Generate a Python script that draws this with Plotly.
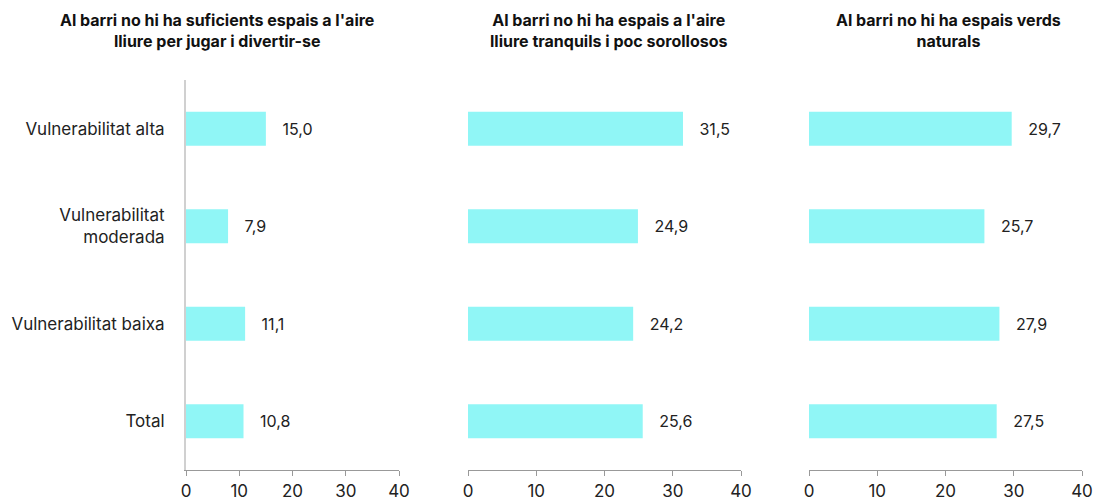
import plotly.graph_objects as go

# Data
categories = ["Vulnerabilitat alta", "Vulnerabilitat<br>moderada", "Vulnerabilitat baixa", "Total"]
titles = [
    "Al barri no hi ha suficients espais a l'aire<br>lliure per jugar i divertir-se",
    "Al barri no hi ha espais a l'aire<br>lliure tranquils i poc sorollosos",
    "Al barri no hi ha espais verds<br>naturals",
]
values_jugar = [15.0, 7.9, 11.1, 10.8]
values_tranquils = [31.5, 24.9, 24.2, 25.6]
values_verds = [29.7, 25.7, 27.9, 27.5]
x_ticks = [0, 10, 20, 30, 40]

W, H = 1096, 501
BAR = "#90F6F6"

def fmt(v):
    # comma decimal separator, small lead-in gap after the bar
    return "&nbsp;&nbsp;&nbsp;" + f"{v:.1f}".replace(".", ",")

# pixel layout of each panel (x0, x1) and title centre
panels_px = [(186, 399, 217), (468, 741, 608), (809, 1082, 948)]
y_top_px, y_bot_px = 80, 470

fig = go.Figure()
series = [values_jugar, values_tranquils, values_verds]
for i, vals in enumerate(series):
    n = "" if i == 0 else str(i + 1)
    fig.add_trace(go.Bar(
        x=vals, y=categories, orientation="h",
        marker=dict(color=BAR, line=dict(width=0)),
        text=[fmt(v) for v in vals], textposition="outside",
        textfont=dict(family="Inter, Roboto, sans-serif", size=16, color="#222"),
        cliponaxis=False,
        xaxis="x" + n, yaxis="y" + n, showlegend=False,
    ))

layout = dict(
    width=W, height=H, margin=dict(l=0, r=0, t=0, b=0),
    paper_bgcolor="white", plot_bgcolor="white",
    bargap=0.65, template="none",
)
ydom = [1 - y_bot_px / H, 1 - y_top_px / H]
annotations = []
for i, (x0, x1, tc) in enumerate(panels_px):
    n = "" if i == 0 else str(i + 1)
    layout["xaxis" + n] = dict(
        domain=[x0 / W, x1 / W], range=[0, 40], tickvals=x_ticks,
        showgrid=False, zeroline=False, showline=True, linecolor="#999", linewidth=1,
        ticks="outside", ticklen=5, tickcolor="#999", ticklabelstandoff=1,
        tickfont=dict(family="Inter, Roboto, sans-serif", size=17, color="#222"),
        automargin=False, anchor="y" + n, fixedrange=True,
    )
    layout["yaxis" + n] = dict(
        domain=ydom, autorange="reversed", anchor="x" + n,
        showgrid=False, zeroline=False,
        showline=(i == 0), linecolor="#d0d0d0", linewidth=2,
        showticklabels=(i == 0), ticks="", ticklabelstandoff=16,
        tickfont=dict(family="Inter, Roboto, sans-serif", size=17, color="#222"),
        automargin=False, fixedrange=True,
    )
    annotations.append(dict(
        text="<b>" + titles[i] + "</b>", x=tc / W, y=1 - 31 / H, xref="paper", yref="paper",
        xanchor="center", yanchor="middle", showarrow=False, align="center",
        font=dict(family="Inter, Lato, sans-serif", size=16, color="#111"),
    ))
layout["annotations"] = annotations
fig.update_layout(**layout)
fig.write_html("out.html")
